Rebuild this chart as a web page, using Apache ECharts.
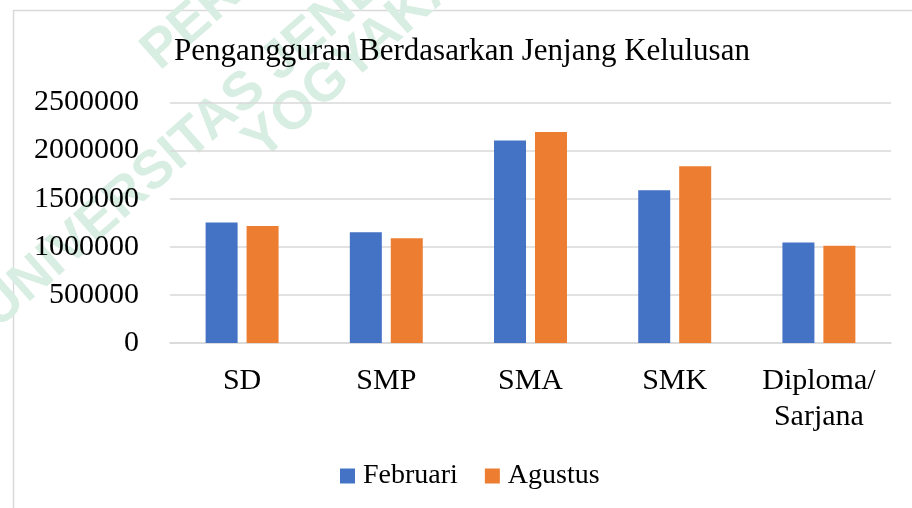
<!DOCTYPE html>
<html>
<head>
<meta charset="utf-8">
<script src="https://cdn.jsdelivr.net/npm/echarts@6/dist/echarts.min.js"></script>
<style>
html,body{margin:0;padding:0;background:#fff;}
#chart{width:912px;height:508px;}
</style>
</head>
<body>
<div id="chart"></div>
<script>
const titleText = 'Pengangguran Berdasarkan Jenjang Kelulusan';
const categories = ['SD', 'SMP', 'SMA', 'SMK', 'Diploma/\nSarjana'];
const seriesNames = ['Februari', 'Agustus'];
const februari = [1252000, 1151000, 2104000, 1587000, 1044000];
const agustus = [1216000, 1088000, 2193000, 1837000, 1012000];
const yMin = 0, yMax = 2500000, yInterval = 500000;
const watermarkLines = ['PERPUSTAKAAN', 'UNIVERSITAS JENDERAL ACHMAD YANI', 'YOGYAKARTA'];

const serif = '"Liberation Serif", "Times New Roman", serif';
const chart = echarts.init(document.getElementById('chart'), null, {renderer: 'canvas'});
const wmAngle = 0.72;
const wmFont = 'bold 54px "Liberation Sans", Arial, sans-serif';
const wmColor = '#d8eee3';

chart.setOption({
  backgroundColor: '#ffffff',
  animation: false,
  graphic: [
    {type: 'rect', z: -10, silent: true, shape: {x: 13.5, y: 10.5, width: 1000, height: 1000},
     style: {fill: 'none', stroke: '#d9d9d9', lineWidth: 1.5}},
    {type: 'text', z: -5, x: 150, y: 60, rotation: wmAngle, silent: true,
     style: {text: watermarkLines[0], font: wmFont, fill: wmColor, textVerticalAlign: 'middle'}},
    {type: 'text', z: -5, x: -12, y: 318, rotation: wmAngle, silent: true,
     style: {text: watermarkLines[1], font: wmFont, fill: wmColor, textVerticalAlign: 'middle'}},
    {type: 'text', z: -5, x: 252, y: 150, rotation: wmAngle, silent: true,
     style: {text: watermarkLines[2], font: wmFont, fill: wmColor, textVerticalAlign: 'middle'}}
  ],
  title: {
    text: titleText,
    left: 174,
    top: 36,
    padding: 0,
    textStyle: {fontFamily: serif, fontSize: 31, fontWeight: 'normal', color: '#000'}
  },
  legend: {
    data: seriesNames,
    left: 340,
    top: 462,
    padding: 0,
    icon: 'rect',
    itemWidth: 15,
    itemHeight: 15,
    itemGap: 27,
    textStyle: {fontFamily: serif, fontSize: 28, color: '#000', padding: [0, 0, 0, 3]}
  },
  grid: {left: 170, right: 21, top: 102.5, bottom: 165, containLabel: false},
  xAxis: {
    type: 'category',
    data: categories,
    axisLine: {lineStyle: {color: '#d9d9d9', width: 1.5}},
    axisTick: {show: false},
    axisLabel: {fontFamily: serif, fontSize: 30, color: '#000', margin: 20, lineHeight: 36, interval: 0}
  },
  yAxis: {
    type: 'value',
    min: yMin,
    max: yMax,
    interval: yInterval,
    axisLine: {show: false},
    axisTick: {show: false},
    splitLine: {lineStyle: {color: '#d9d9d9', width: 1.5}},
    axisLabel: {fontFamily: serif, fontSize: 30, color: '#000', margin: 31, formatter: v => String(v)}
  },
  series: [
    {name: seriesNames[0], type: 'bar', data: februari, barWidth: 32, barGap: '28%', itemStyle: {color: '#4472C4'}},
    {name: seriesNames[1], type: 'bar', data: agustus, barWidth: 32, barGap: '28%', itemStyle: {color: '#ED7D31'}}
  ]
});
</script>
</body>
</html>
